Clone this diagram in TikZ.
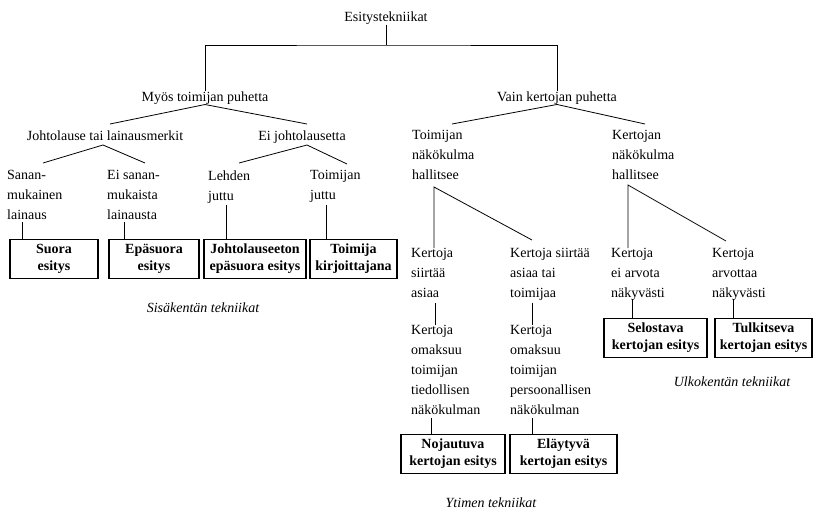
\documentclass[tikz,border=0pt]{standalone}
\usepackage{fontspec}
\setmainfont{Liberation Serif}
\begin{document}
\begin{tikzpicture}[x=1pt,y=-1pt,
  every node/.style={inner sep=0pt, font=\fontsize{14}{20}\selectfont},
  lbl/.style={anchor=mid},
  multi/.style={anchor=north west, align=left, execute at begin node=\strut},
  tech/.style={draw, line width=1.2pt, minimum height=39pt, align=center,
               font=\fontsize{14}{17}\selectfont\bfseries},
  grouplbl/.style={anchor=mid, font=\fontsize{14}{20}\selectfont\itshape},
  link/.style={line width=0.8pt}]
\useasboundingbox (0,0) rectangle (815,512);

% ---- upper levels
\node[lbl] (esit) at (386,19) {Esitystekniikat};
\node[lbl] (myos) at (205,99) {Myös toimijan puhetta};
\node[lbl] (vain) at (557,99) {Vain kertojan puhetta};
\node[lbl] (johto) at (105,138) {Johtolause tai lainausmerkit};
\node[lbl] (eijohto) at (302,138) {Ei johtolausetta};
\node[multi] (toimnako) at (412,130.2) {Toimijan\\näkökulma\\hallitsee};
\node[multi] (kertnako) at (612,130.2) {Kertojan\\näkökulma\\hallitsee};

% ---- inner field
\node[multi] (sanan) at (7,170.2) {Sanan-\\mukainen\\lainaus};
\node[multi] (eisanan) at (107,170.2) {Ei sanan-\\mukaista\\lainausta};
\node[multi] (lehden) at (208,170.2) {Lehden\\juttu};
\node[multi] (toimjuttu) at (310,170.2) {Toimijan\\juttu};

\node[tech, minimum width=88pt] (suora) at (54,259) {Suora\\esitys};
\node[tech, minimum width=90pt] (epa) at (154,259) {Epäsuora\\esitys};
\node[tech, minimum width=102pt] (johtol) at (255,259) {Johtolauseeton\\epäsuora esitys};
\node[tech, minimum width=87pt] (toimkirj) at (353.5,259) {Toimija\\kirjoittajana};
\node[grouplbl] (sis) at (203,310) {Sisäkentän tekniikat};

% ---- core and outer field
\node[multi] (siirtaa1) at (411,248.2) {Kertoja\\siirtää\\asiaa};
\node[multi] (siirtaa2) at (510,248.2) {Kertoja siirtää\\asiaa tai\\toimijaa};
\node[multi] (eiarv) at (611,248.2) {Kertoja\\ei arvota\\näkyvästi};
\node[multi] (arv) at (712,248.2) {Kertoja\\arvottaa\\näkyvästi};

\node[multi] (omak1) at (411,325.2) {Kertoja\\omaksuu\\toimijan\\tiedollisen\\näkökulman};
\node[multi] (omak2) at (510,325.2) {Kertoja\\omaksuu\\toimijan\\persoonallisen\\näkökulman};

\node[tech, minimum width=103pt] (selost) at (655.5,338) {Selostava\\kertojan esitys};
\node[tech, minimum width=97pt] (tulk) at (763.5,338) {Tulkitseva\\kertojan esitys};
\node[grouplbl] (ulko) at (732,384) {Ulkokentän tekniikat};

\node[tech, minimum width=104pt] (nojaut) at (453,454) {Nojautuva\\kertojan esitys};
\node[tech, minimum width=107pt] (elayt) at (563.5,454) {Eläytyvä\\kertojan esitys};
\node[grouplbl] (ytim) at (491,505) {Ytimen tekniikat};

% ---- junction points
\coordinate (bar) at (386,45);
\coordinate (myosL) at (110,124);   \coordinate (myosR) at (307,124);
\coordinate (vainL) at (452,124);   \coordinate (vainR) at (645,124);
\coordinate (johtoJ) at (103,145);  \coordinate (johtoL) at (43,163);  \coordinate (johtoR) at (145,163);
\coordinate (eijJ) at (307,145);    \coordinate (eijL) at (239,163);   \coordinate (eijR) at (347,164);
\coordinate (tnJ) at (434,187);     \coordinate (tnR) at (532,240);
\coordinate (knJ) at (628,185);     \coordinate (knR) at (726,241);
\coordinate (s1) at (22,222);   \coordinate (s2) at (124,222);
\coordinate (s3) at (226,205);  \coordinate (s4) at (326,205);
\coordinate (c1) at (435,303);  \coordinate (c2) at (532,303);
\coordinate (c3) at (632,299);  \coordinate (c4) at (733,299);
\coordinate (c5) at (431,418);  \coordinate (c6) at (532,418);

% ---- connectors
\draw[link] (esit.south) -- (bar);
\draw[link] (myos.north) |- (bar) -| (vain.north);
\draw[link] (myosL) -- (myos.south) -- (myosR);
\draw[link] (vainL) -- (vain.south) -- (vainR);
\draw[link] (johtoL) -- (johtoJ) -- (johtoR);
\draw[link] (eijL) -- (eijJ) -- (eijR);
\draw[link] (s1) -- (s1 |- suora.north);
\draw[link] (s2) -- (s2 |- epa.north);
\draw[link] (s3) -- (s3 |- johtol.north);
\draw[link] (s4) -- (s4 |- toimkirj.north);
\draw[link] (tnJ |- siirtaa1.north) -- (tnJ) -- (tnR);
\draw[link] (knJ |- eiarv.north) -- (knJ) -- (knR);
\draw[link] (c1) -- (c1 |- omak1.north);
\draw[link] (c2) -- (c2 |- omak2.north);
\draw[link] (c3) -- (c3 |- selost.north);
\draw[link] (c4) -- (c4 |- tulk.north);
\draw[link] (c5) -- (c5 |- nojaut.north);
\draw[link] (c6) -- (c6 |- elayt.north);
\end{tikzpicture}
\end{document}
